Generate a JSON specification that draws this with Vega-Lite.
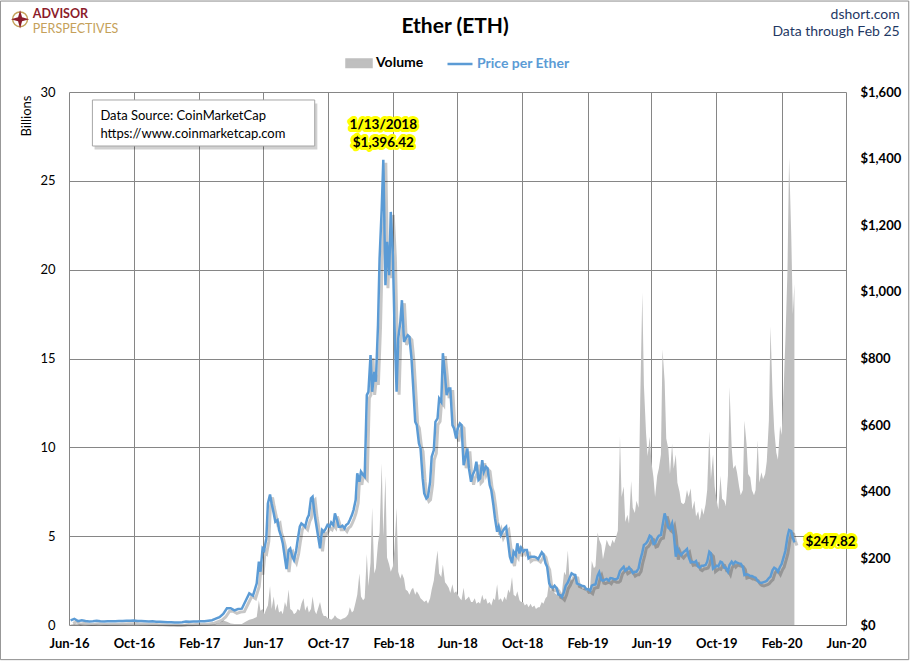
{
  "$schema": "https://vega.github.io/schema/vega-lite/v6.json",
  "width": 777,
  "height": 533,
  "autosize": "none",
  "padding": {"left": 69, "top": 92, "right": 64, "bottom": 36},
  "background": "white",
  "datasets": {
    "eth": [
      {"date": "2016-06-04", "vol": 0.03, "price": 13.9},
      {"date": "2016-06-11", "vol": 0.05, "price": 18.6},
      {"date": "2016-06-18", "vol": 0.06, "price": 11.5},
      {"date": "2016-06-25", "vol": 0.03, "price": 14.0},
      {"date": "2016-07-02", "vol": 0.02, "price": 12.2},
      {"date": "2016-07-09", "vol": 0.02, "price": 10.8},
      {"date": "2016-07-16", "vol": 0.02, "price": 11.5},
      {"date": "2016-07-23", "vol": 0.03, "price": 12.8},
      {"date": "2016-07-30", "vol": 0.02, "price": 11.3},
      {"date": "2016-08-06", "vol": 0.02, "price": 10.4},
      {"date": "2016-08-13", "vol": 0.01, "price": 11.2},
      {"date": "2016-08-20", "vol": 0.01, "price": 11.0},
      {"date": "2016-08-27", "vol": 0.01, "price": 11.3},
      {"date": "2016-09-03", "vol": 0.01, "price": 11.9},
      {"date": "2016-09-10", "vol": 0.01, "price": 12.0},
      {"date": "2016-09-17", "vol": 0.01, "price": 12.5},
      {"date": "2016-09-24", "vol": 0.01, "price": 12.9},
      {"date": "2016-10-01", "vol": 0.01, "price": 13.2},
      {"date": "2016-10-08", "vol": 0.01, "price": 12.0},
      {"date": "2016-10-15", "vol": 0.01, "price": 11.9},
      {"date": "2016-10-22", "vol": 0.01, "price": 11.5},
      {"date": "2016-10-29", "vol": 0.01, "price": 10.8},
      {"date": "2016-11-05", "vol": 0.01, "price": 11.0},
      {"date": "2016-11-12", "vol": 0.01, "price": 10.0},
      {"date": "2016-11-19", "vol": 0.01, "price": 9.7},
      {"date": "2016-11-26", "vol": 0.01, "price": 9.1},
      {"date": "2016-12-03", "vol": 0.01, "price": 8.5},
      {"date": "2016-12-10", "vol": 0.01, "price": 8.2},
      {"date": "2016-12-17", "vol": 0.01, "price": 7.8},
      {"date": "2016-12-24", "vol": 0.01, "price": 7.3},
      {"date": "2016-12-31", "vol": 0.01, "price": 8.0},
      {"date": "2017-01-07", "vol": 0.03, "price": 10.2},
      {"date": "2017-01-14", "vol": 0.02, "price": 9.8},
      {"date": "2017-01-21", "vol": 0.02, "price": 10.7},
      {"date": "2017-01-28", "vol": 0.01, "price": 10.6},
      {"date": "2017-02-04", "vol": 0.01, "price": 11.3},
      {"date": "2017-02-11", "vol": 0.01, "price": 11.4},
      {"date": "2017-02-18", "vol": 0.02, "price": 12.8},
      {"date": "2017-02-25", "vol": 0.03, "price": 14.4},
      {"date": "2017-03-04", "vol": 0.05, "price": 19.0},
      {"date": "2017-03-11", "vol": 0.12, "price": 23.5},
      {"date": "2017-03-18", "vol": 0.25, "price": 33.0},
      {"date": "2017-03-25", "vol": 0.18, "price": 50.0},
      {"date": "2017-04-01", "vol": 0.09, "price": 50.5},
      {"date": "2017-04-08", "vol": 0.06, "price": 44.0},
      {"date": "2017-04-15", "vol": 0.05, "price": 48.0},
      {"date": "2017-04-22", "vol": 0.05, "price": 49.0},
      {"date": "2017-04-29", "vol": 0.18, "price": 72.0},
      {"date": "2017-05-06", "vol": 0.3, "price": 95.0},
      {"date": "2017-05-13", "vol": 0.35, "price": 88.0},
      {"date": "2017-05-20", "vol": 0.45, "price": 125},
      {"date": "2017-05-24", "vol": 1.4, "price": 190},
      {"date": "2017-05-27", "vol": 0.8, "price": 160},
      {"date": "2017-05-31", "vol": 0.9, "price": 230},
      {"date": "2017-06-03", "vol": 0.6, "price": 224},
      {"date": "2017-06-07", "vol": 0.9, "price": 260},
      {"date": "2017-06-10", "vol": 1.1, "price": 365},
      {"date": "2017-06-14", "vol": 2.2, "price": 392},
      {"date": "2017-06-17", "vol": 0.9, "price": 365},
      {"date": "2017-06-21", "vol": 1.6, "price": 335},
      {"date": "2017-06-24", "vol": 0.8, "price": 310},
      {"date": "2017-06-28", "vol": 1.2, "price": 315},
      {"date": "2017-07-01", "vol": 0.7, "price": 285},
      {"date": "2017-07-05", "vol": 0.8, "price": 265},
      {"date": "2017-07-08", "vol": 0.6, "price": 245},
      {"date": "2017-07-12", "vol": 1.3, "price": 200},
      {"date": "2017-07-15", "vol": 1.0, "price": 168},
      {"date": "2017-07-19", "vol": 2.0, "price": 225},
      {"date": "2017-07-22", "vol": 0.9, "price": 230},
      {"date": "2017-07-26", "vol": 0.8, "price": 205},
      {"date": "2017-07-29", "vol": 0.6, "price": 195},
      {"date": "2017-08-02", "vol": 0.7, "price": 222},
      {"date": "2017-08-05", "vol": 0.9, "price": 255},
      {"date": "2017-08-09", "vol": 0.8, "price": 295},
      {"date": "2017-08-12", "vol": 1.2, "price": 305},
      {"date": "2017-08-16", "vol": 1.5, "price": 300},
      {"date": "2017-08-19", "vol": 0.8, "price": 295},
      {"date": "2017-08-23", "vol": 1.1, "price": 320},
      {"date": "2017-08-26", "vol": 0.7, "price": 330},
      {"date": "2017-08-30", "vol": 0.9, "price": 380},
      {"date": "2017-09-02", "vol": 1.6, "price": 385},
      {"date": "2017-09-06", "vol": 0.8, "price": 330},
      {"date": "2017-09-09", "vol": 0.6, "price": 300},
      {"date": "2017-09-13", "vol": 1.0, "price": 260},
      {"date": "2017-09-16", "vol": 1.3, "price": 230},
      {"date": "2017-09-20", "vol": 0.7, "price": 285},
      {"date": "2017-09-23", "vol": 0.5, "price": 280},
      {"date": "2017-09-27", "vol": 0.5, "price": 290},
      {"date": "2017-09-30", "vol": 0.4, "price": 300},
      {"date": "2017-10-04", "vol": 0.35, "price": 295},
      {"date": "2017-10-07", "vol": 0.3, "price": 308},
      {"date": "2017-10-11", "vol": 0.4, "price": 300},
      {"date": "2017-10-14", "vol": 0.55, "price": 335},
      {"date": "2017-10-18", "vol": 0.4, "price": 315},
      {"date": "2017-10-21", "vol": 0.35, "price": 295},
      {"date": "2017-10-25", "vol": 0.3, "price": 295},
      {"date": "2017-10-28", "vol": 0.35, "price": 298},
      {"date": "2017-11-01", "vol": 0.4, "price": 290},
      {"date": "2017-11-04", "vol": 0.45, "price": 300},
      {"date": "2017-11-08", "vol": 0.6, "price": 305},
      {"date": "2017-11-11", "vol": 1.0, "price": 315},
      {"date": "2017-11-15", "vol": 0.7, "price": 330},
      {"date": "2017-11-18", "vol": 0.8, "price": 345},
      {"date": "2017-11-22", "vol": 1.3, "price": 375},
      {"date": "2017-11-25", "vol": 1.7, "price": 455},
      {"date": "2017-11-29", "vol": 2.9, "price": 430},
      {"date": "2017-12-02", "vol": 1.6, "price": 460},
      {"date": "2017-12-06", "vol": 1.4, "price": 450},
      {"date": "2017-12-09", "vol": 1.5, "price": 445},
      {"date": "2017-12-13", "vol": 4.0, "price": 690},
      {"date": "2017-12-16", "vol": 2.2, "price": 700},
      {"date": "2017-12-20", "vol": 3.5, "price": 810},
      {"date": "2017-12-23", "vol": 6.6, "price": 700},
      {"date": "2017-12-27", "vol": 2.9, "price": 760},
      {"date": "2017-12-30", "vol": 3.2, "price": 730},
      {"date": "2018-01-03", "vol": 4.6, "price": 900},
      {"date": "2018-01-06", "vol": 5.2, "price": 1100},
      {"date": "2018-01-10", "vol": 9.1, "price": 1250},
      {"date": "2018-01-13", "vol": 5.0, "price": 1396.42},
      {"date": "2018-01-17", "vol": 8.4, "price": 1020},
      {"date": "2018-01-20", "vol": 3.8, "price": 1150},
      {"date": "2018-01-24", "vol": 3.4, "price": 1050},
      {"date": "2018-01-27", "vol": 3.0, "price": 1240},
      {"date": "2018-01-31", "vol": 3.3, "price": 1110},
      {"date": "2018-02-03", "vol": 4.3, "price": 900},
      {"date": "2018-02-07", "vol": 6.6, "price": 700},
      {"date": "2018-02-10", "vol": 3.0, "price": 860},
      {"date": "2018-02-14", "vol": 2.6, "price": 910},
      {"date": "2018-02-17", "vol": 2.9, "price": 975},
      {"date": "2018-02-21", "vol": 2.6, "price": 850},
      {"date": "2018-02-24", "vol": 2.0, "price": 860},
      {"date": "2018-02-28", "vol": 1.9, "price": 870},
      {"date": "2018-03-03", "vol": 1.7, "price": 865},
      {"date": "2018-03-07", "vol": 2.0, "price": 800},
      {"date": "2018-03-10", "vol": 2.1, "price": 720},
      {"date": "2018-03-14", "vol": 1.7, "price": 610},
      {"date": "2018-03-17", "vol": 1.9, "price": 600},
      {"date": "2018-03-21", "vol": 1.7, "price": 545},
      {"date": "2018-03-24", "vol": 1.5, "price": 530},
      {"date": "2018-03-28", "vol": 1.4, "price": 440},
      {"date": "2018-03-31", "vol": 1.3, "price": 395},
      {"date": "2018-04-04", "vol": 1.4, "price": 380},
      {"date": "2018-04-07", "vol": 1.2, "price": 385},
      {"date": "2018-04-11", "vol": 1.5, "price": 430},
      {"date": "2018-04-14", "vol": 2.0, "price": 505},
      {"date": "2018-04-18", "vol": 2.5, "price": 525},
      {"date": "2018-04-21", "vol": 3.3, "price": 610},
      {"date": "2018-04-25", "vol": 4.2, "price": 620},
      {"date": "2018-04-28", "vol": 2.9, "price": 680},
      {"date": "2018-05-02", "vol": 2.7, "price": 670},
      {"date": "2018-05-05", "vol": 3.4, "price": 816},
      {"date": "2018-05-09", "vol": 2.4, "price": 750},
      {"date": "2018-05-12", "vol": 2.3, "price": 690},
      {"date": "2018-05-16", "vol": 2.1, "price": 710},
      {"date": "2018-05-19", "vol": 1.8, "price": 710},
      {"date": "2018-05-23", "vol": 2.3, "price": 600},
      {"date": "2018-05-26", "vol": 1.8, "price": 590},
      {"date": "2018-05-30", "vol": 1.9, "price": 560},
      {"date": "2018-06-02", "vol": 1.7, "price": 590},
      {"date": "2018-06-06", "vol": 1.5, "price": 605},
      {"date": "2018-06-09", "vol": 1.4, "price": 600},
      {"date": "2018-06-13", "vol": 2.1, "price": 480},
      {"date": "2018-06-16", "vol": 1.4, "price": 500},
      {"date": "2018-06-20", "vol": 1.5, "price": 530},
      {"date": "2018-06-23", "vol": 1.6, "price": 470},
      {"date": "2018-06-27", "vol": 1.3, "price": 430},
      {"date": "2018-06-30", "vol": 1.3, "price": 450},
      {"date": "2018-07-04", "vol": 1.5, "price": 465},
      {"date": "2018-07-07", "vol": 1.2, "price": 490},
      {"date": "2018-07-11", "vol": 1.3, "price": 435},
      {"date": "2018-07-14", "vol": 1.2, "price": 440},
      {"date": "2018-07-18", "vol": 1.7, "price": 495},
      {"date": "2018-07-21", "vol": 1.4, "price": 460},
      {"date": "2018-07-25", "vol": 1.5, "price": 475},
      {"date": "2018-07-28", "vol": 1.2, "price": 470},
      {"date": "2018-08-01", "vol": 1.3, "price": 420},
      {"date": "2018-08-04", "vol": 1.1, "price": 405},
      {"date": "2018-08-08", "vol": 1.5, "price": 360},
      {"date": "2018-08-11", "vol": 1.4, "price": 320},
      {"date": "2018-08-15", "vol": 2.3, "price": 280},
      {"date": "2018-08-18", "vol": 1.4, "price": 295},
      {"date": "2018-08-22", "vol": 1.5, "price": 270},
      {"date": "2018-08-25", "vol": 1.3, "price": 280},
      {"date": "2018-08-29", "vol": 1.6, "price": 290},
      {"date": "2018-09-01", "vol": 1.4, "price": 295},
      {"date": "2018-09-05", "vol": 2.0, "price": 245},
      {"date": "2018-09-08", "vol": 1.8, "price": 205},
      {"date": "2018-09-12", "vol": 2.7, "price": 186},
      {"date": "2018-09-15", "vol": 1.7, "price": 220},
      {"date": "2018-09-19", "vol": 1.6, "price": 210},
      {"date": "2018-09-22", "vol": 1.9, "price": 245},
      {"date": "2018-09-26", "vol": 1.4, "price": 215},
      {"date": "2018-09-29", "vol": 1.3, "price": 232},
      {"date": "2018-10-03", "vol": 1.3, "price": 220},
      {"date": "2018-10-06", "vol": 1.1, "price": 225},
      {"date": "2018-10-10", "vol": 1.2, "price": 225},
      {"date": "2018-10-13", "vol": 1.0, "price": 200},
      {"date": "2018-10-17", "vol": 1.2, "price": 205},
      {"date": "2018-10-20", "vol": 1.0, "price": 205},
      {"date": "2018-10-24", "vol": 1.1, "price": 205},
      {"date": "2018-10-27", "vol": 0.9, "price": 203},
      {"date": "2018-10-31", "vol": 1.0, "price": 198},
      {"date": "2018-11-03", "vol": 1.0, "price": 206},
      {"date": "2018-11-07", "vol": 1.3, "price": 218},
      {"date": "2018-11-10", "vol": 1.2, "price": 212},
      {"date": "2018-11-14", "vol": 1.5, "price": 185},
      {"date": "2018-11-17", "vol": 1.6, "price": 175},
      {"date": "2018-11-21", "vol": 2.5, "price": 125},
      {"date": "2018-11-24", "vol": 1.9, "price": 115},
      {"date": "2018-11-28", "vol": 2.3, "price": 112},
      {"date": "2018-12-01", "vol": 1.8, "price": 118},
      {"date": "2018-12-05", "vol": 1.7, "price": 110},
      {"date": "2018-12-08", "vol": 2.0, "price": 92},
      {"date": "2018-12-12", "vol": 1.6, "price": 89},
      {"date": "2018-12-15", "vol": 1.9, "price": 84},
      {"date": "2018-12-19", "vol": 3.0, "price": 100},
      {"date": "2018-12-22", "vol": 2.8, "price": 118},
      {"date": "2018-12-26", "vol": 4.2, "price": 128},
      {"date": "2018-12-29", "vol": 2.7, "price": 140},
      {"date": "2019-01-02", "vol": 2.5, "price": 155},
      {"date": "2019-01-05", "vol": 2.6, "price": 152},
      {"date": "2019-01-09", "vol": 2.9, "price": 150},
      {"date": "2019-01-12", "vol": 2.4, "price": 125},
      {"date": "2019-01-16", "vol": 2.2, "price": 122},
      {"date": "2019-01-19", "vol": 2.3, "price": 120},
      {"date": "2019-01-23", "vol": 2.0, "price": 117},
      {"date": "2019-01-26", "vol": 2.1, "price": 116},
      {"date": "2019-01-30", "vol": 1.9, "price": 107},
      {"date": "2019-02-02", "vol": 2.0, "price": 108},
      {"date": "2019-02-06", "vol": 2.1, "price": 103},
      {"date": "2019-02-09", "vol": 3.6, "price": 118},
      {"date": "2019-02-13", "vol": 3.2, "price": 121},
      {"date": "2019-02-16", "vol": 3.3, "price": 122},
      {"date": "2019-02-20", "vol": 5.2, "price": 148},
      {"date": "2019-02-23", "vol": 4.8, "price": 158},
      {"date": "2019-02-27", "vol": 4.5, "price": 135},
      {"date": "2019-03-02", "vol": 3.7, "price": 133},
      {"date": "2019-03-06", "vol": 4.3, "price": 136},
      {"date": "2019-03-09", "vol": 4.8, "price": 138},
      {"date": "2019-03-13", "vol": 4.5, "price": 133},
      {"date": "2019-03-16", "vol": 4.4, "price": 141},
      {"date": "2019-03-20", "vol": 4.8, "price": 140},
      {"date": "2019-03-23", "vol": 4.6, "price": 137},
      {"date": "2019-03-27", "vol": 5.0, "price": 137},
      {"date": "2019-03-30", "vol": 5.3, "price": 141},
      {"date": "2019-04-03", "vol": 10.6, "price": 162},
      {"date": "2019-04-06", "vol": 7.2, "price": 168},
      {"date": "2019-04-10", "vol": 7.8, "price": 175},
      {"date": "2019-04-13", "vol": 5.8, "price": 163},
      {"date": "2019-04-17", "vol": 6.2, "price": 167},
      {"date": "2019-04-20", "vol": 5.7, "price": 173},
      {"date": "2019-04-24", "vol": 8.1, "price": 165},
      {"date": "2019-04-27", "vol": 6.6, "price": 156},
      {"date": "2019-05-01", "vol": 6.3, "price": 160},
      {"date": "2019-05-04", "vol": 7.0, "price": 160},
      {"date": "2019-05-08", "vol": 6.6, "price": 170},
      {"date": "2019-05-11", "vol": 12.5, "price": 194},
      {"date": "2019-05-15", "vol": 18.7, "price": 218},
      {"date": "2019-05-18", "vol": 13.5, "price": 240},
      {"date": "2019-05-22", "vol": 10.8, "price": 245},
      {"date": "2019-05-25", "vol": 9.5, "price": 252},
      {"date": "2019-05-29", "vol": 10.6, "price": 268},
      {"date": "2019-06-01", "vol": 9.2, "price": 265},
      {"date": "2019-06-05", "vol": 8.3, "price": 243},
      {"date": "2019-06-08", "vol": 7.2, "price": 245},
      {"date": "2019-06-12", "vol": 8.4, "price": 260},
      {"date": "2019-06-15", "vol": 8.8, "price": 268},
      {"date": "2019-06-19", "vol": 9.6, "price": 270},
      {"date": "2019-06-22", "vol": 15.5, "price": 298},
      {"date": "2019-06-26", "vol": 13.7, "price": 335},
      {"date": "2019-06-29", "vol": 10.5, "price": 318},
      {"date": "2019-07-03", "vol": 9.9, "price": 292},
      {"date": "2019-07-06", "vol": 8.5, "price": 288},
      {"date": "2019-07-10", "vol": 10.2, "price": 305},
      {"date": "2019-07-13", "vol": 8.8, "price": 275},
      {"date": "2019-07-17", "vol": 9.6, "price": 205},
      {"date": "2019-07-20", "vol": 8.0, "price": 230},
      {"date": "2019-07-24", "vol": 7.5, "price": 215},
      {"date": "2019-07-27", "vol": 6.9, "price": 210},
      {"date": "2019-07-31", "vol": 6.8, "price": 218},
      {"date": "2019-08-03", "vol": 6.9, "price": 222},
      {"date": "2019-08-07", "vol": 7.6, "price": 228},
      {"date": "2019-08-10", "vol": 7.2, "price": 205},
      {"date": "2019-08-14", "vol": 7.7, "price": 188},
      {"date": "2019-08-17", "vol": 6.5, "price": 190},
      {"date": "2019-08-21", "vol": 7.0, "price": 188},
      {"date": "2019-08-24", "vol": 6.1, "price": 192},
      {"date": "2019-08-28", "vol": 6.4, "price": 175},
      {"date": "2019-08-31", "vol": 5.9, "price": 172},
      {"date": "2019-09-04", "vol": 6.6, "price": 178},
      {"date": "2019-09-07", "vol": 6.2, "price": 178},
      {"date": "2019-09-11", "vol": 6.8, "price": 180},
      {"date": "2019-09-14", "vol": 7.6, "price": 190},
      {"date": "2019-09-18", "vol": 10.9, "price": 220},
      {"date": "2019-09-21", "vol": 8.2, "price": 215},
      {"date": "2019-09-25", "vol": 9.6, "price": 169},
      {"date": "2019-09-28", "vol": 7.8, "price": 173},
      {"date": "2019-10-02", "vol": 7.0, "price": 178},
      {"date": "2019-10-05", "vol": 6.5, "price": 176},
      {"date": "2019-10-09", "vol": 8.4, "price": 190},
      {"date": "2019-10-12", "vol": 7.1, "price": 188},
      {"date": "2019-10-16", "vol": 7.0, "price": 172},
      {"date": "2019-10-19", "vol": 6.7, "price": 172},
      {"date": "2019-10-23", "vol": 8.4, "price": 160},
      {"date": "2019-10-26", "vol": 13.4, "price": 180},
      {"date": "2019-10-30", "vol": 10.0, "price": 190},
      {"date": "2019-11-02", "vol": 8.8, "price": 183},
      {"date": "2019-11-06", "vol": 9.0, "price": 190},
      {"date": "2019-11-09", "vol": 8.6, "price": 187},
      {"date": "2019-11-13", "vol": 7.8, "price": 185},
      {"date": "2019-11-16", "vol": 7.3, "price": 184},
      {"date": "2019-11-20", "vol": 7.6, "price": 175},
      {"date": "2019-11-23", "vol": 11.5, "price": 150},
      {"date": "2019-11-27", "vol": 10.2, "price": 152},
      {"date": "2019-11-30", "vol": 8.5, "price": 151},
      {"date": "2019-12-04", "vol": 8.3, "price": 147},
      {"date": "2019-12-07", "vol": 7.6, "price": 147},
      {"date": "2019-12-11", "vol": 7.3, "price": 144},
      {"date": "2019-12-14", "vol": 7.6, "price": 142},
      {"date": "2019-12-18", "vol": 10.4, "price": 132},
      {"date": "2019-12-21", "vol": 8.0, "price": 128},
      {"date": "2019-12-25", "vol": 8.6, "price": 126},
      {"date": "2019-12-28", "vol": 8.2, "price": 128},
      {"date": "2020-01-01", "vol": 8.5, "price": 130},
      {"date": "2020-01-04", "vol": 9.2, "price": 133},
      {"date": "2020-01-08", "vol": 11.5, "price": 141},
      {"date": "2020-01-11", "vol": 16.8, "price": 145},
      {"date": "2020-01-15", "vol": 12.9, "price": 165},
      {"date": "2020-01-18", "vol": 11.0, "price": 172},
      {"date": "2020-01-22", "vol": 9.7, "price": 168},
      {"date": "2020-01-25", "vol": 9.3, "price": 160},
      {"date": "2020-01-29", "vol": 11.2, "price": 175},
      {"date": "2020-02-01", "vol": 10.7, "price": 183},
      {"date": "2020-02-05", "vol": 13.5, "price": 205},
      {"date": "2020-02-08", "vol": 16.0, "price": 223},
      {"date": "2020-02-12", "vol": 20.0, "price": 265},
      {"date": "2020-02-15", "vol": 26.3, "price": 285},
      {"date": "2020-02-19", "vol": 22.0, "price": 282},
      {"date": "2020-02-22", "vol": 17.5, "price": 262},
      {"date": "2020-02-25", "vol": 19.2, "price": 247.82}
    ]
  },
  "data": {"name": "eth"},
  "layer": [
    {
      "layer": [
        {
          "data": {"values": [{}]},
          "mark": {"type": "rect", "filled": false, "stroke": "#8C8C8C", "strokeWidth": 1},
          "encoding": {
            "x": {"datum": {"year": 2016, "month": 1, "date": 24, "utc": true}, "type": "temporal"},
            "x2": {"datum": {"year": 2020, "month": 9, "date": 27, "utc": true}},
            "y": {"datum": 35.12, "type": "quantitative"},
            "y2": {"datum": -1.95}
          }
        },
        {
          "mark": {"type": "area", "interpolate": "linear"},
          "encoding": {
            "x": {
              "field": "date",
              "type": "temporal",
              "title": null,
              "scale": {"type": "utc", "domain": [{"year": 2016, "month": 6, "date": 1, "utc": true}, {"year": 2020, "month": 6, "date": 1, "utc": true}]},
              "axis": {
                "values": [
                  {"year": 2016, "month": 6, "date": 1, "utc": true},
                  {"year": 2016, "month": 10, "date": 1, "utc": true},
                  {"year": 2017, "month": 2, "date": 1, "utc": true},
                  {"year": 2017, "month": 6, "date": 1, "utc": true},
                  {"year": 2017, "month": 10, "date": 1, "utc": true},
                  {"year": 2018, "month": 2, "date": 1, "utc": true},
                  {"year": 2018, "month": 6, "date": 1, "utc": true},
                  {"year": 2018, "month": 10, "date": 1, "utc": true},
                  {"year": 2019, "month": 2, "date": 1, "utc": true},
                  {"year": 2019, "month": 6, "date": 1, "utc": true},
                  {"year": 2019, "month": 10, "date": 1, "utc": true},
                  {"year": 2020, "month": 2, "date": 1, "utc": true},
                  {"year": 2020, "month": 6, "date": 1, "utc": true}
                ],
                "format": "%b-%y",
                "grid": true,
                "labelFontWeight": "bold",
                "labelFontSize": 13,
                "labelPadding": 12,
                "labelFlush": false,
                "labelOverlap": false
              }
            },
            "y": {
              "field": "vol",
              "type": "quantitative",
              "scale": {"domain": [0, 30], "nice": false},
              "axis": {
                "orient": "left",
                "values": [0, 5, 10, 15, 20, 25, 30],
                "grid": true,
                "labelFontSize": 13,
                "labelPadding": 14,
                "title": "Billions",
                "titleFontSize": 13,
                "titleFontWeight": "normal",
                "titleAngle": -90,
                "titleX": -43,
                "titleY": 3,
                "titleAlign": "right",
                "titleBaseline": "middle"
              }
            },
            "color": {
              "datum": "Volume",
              "type": "nominal",
              "scale": {"domain": ["Volume", "Price per Ether"], "range": ["#BFBFBF", "#5B9BD5"]},
              "legend": {
                "orient": "none",
                "legendX": 276,
                "legendY": -43,
                "direction": "horizontal",
                "title": null,
                "symbolSize": 625,
                "labelFontSize": 14,
                "labelFontWeight": "bold",
                "labelOffset": 3,
                "columnPadding": 18,
                "encode": {
                  "symbols": {
                    "update": {
                      "shape": {"signal": "datum.label === 'Volume' ? 'M-1,-0.3H1V0.3H-1Z' : 'stroke'"},
                      "fill": {"signal": "datum.label === 'Volume' ? '#BFBFBF' : 'transparent'"},
                      "stroke": {"signal": "datum.label === 'Volume' ? 'transparent' : '#5B9BD5'"},
                      "strokeWidth": {"value": 2.5}
                    }
                  },
                  "labels": {
                    "update": {
                      "fill": {"signal": "datum.label === 'Volume' ? 'black' : '#5B9BD5'"}
                    }
                  }
                }
              }
            }
          }
        },
        {
          "data": {"values": [{}]},
          "mark": {"type": "rect", "fill": "#000000", "opacity": 0.18},
          "encoding": {
            "x": {"datum": {"year": 2016, "month": 7, "date": 19, "utc": true}, "type": "temporal"},
            "x2": {"datum": {"year": 2017, "month": 9, "date": 11, "utc": true}},
            "y": {"datum": 29.35, "type": "quantitative"},
            "y2": {"datum": 26.76}
          }
        },
        {
          "data": {"values": [{}]},
          "mark": {"type": "rect", "fill": "white", "stroke": "#A6A6A6", "strokeWidth": 1},
          "encoding": {
            "x": {"datum": {"year": 2016, "month": 7, "date": 15, "utc": true}, "type": "temporal"},
            "x2": {"datum": {"year": 2017, "month": 9, "date": 6, "utc": true}},
            "y": {"datum": 29.55, "type": "quantitative"},
            "y2": {"datum": 26.96}
          }
        },
        {
          "data": {"values": [{}]},
          "mark": {"type": "text", "align": "left", "baseline": "middle", "fontSize": 13, "color": "black", "lineHeight": 18.5},
          "encoding": {
            "x": {"datum": {"year": 2016, "month": 7, "date": 30, "utc": true}, "type": "temporal"},
            "y": {"datum": 28.67, "type": "quantitative"},
            "text": {"value": ["Data Source: CoinMarketCap", "https://www.coinmarketcap.com"]}
          }
        },
        {
          "data": {"values": [{}]},
          "mark": {"type": "point", "shape": "circle", "size": 220, "filled": false, "stroke": "#C5A15A", "strokeWidth": 1.5, "opacity": 1},
          "encoding": {
            "x": {"datum": {"year": 2016, "month": 3, "date": 1, "utc": true}, "type": "temporal"},
            "y": {"datum": 34.09, "type": "quantitative"}
          }
        },
        {
          "data": {"values": [{}]},
          "mark": {"type": "point", "shape": "M0,-1L0.22,-0.22L1,0L0.22,0.22L0,1L-0.22,0.22L-1,0L-0.22,-0.22Z", "size": 330, "filled": true, "color": "#8C1C2B", "opacity": 1},
          "encoding": {
            "x": {"datum": {"year": 2016, "month": 3, "date": 1, "utc": true}, "type": "temporal"},
            "y": {"datum": 34.09, "type": "quantitative"}
          }
        },
        {
          "data": {"values": [{}]},
          "mark": {"type": "text", "align": "left", "baseline": "alphabetic", "fontSize": 12.5, "fontWeight": "bold", "color": "#8C1C2B"},
          "encoding": {
            "x": {"datum": {"year": 2016, "month": 3, "date": 25, "utc": true}, "type": "temporal"},
            "y": {"datum": 34.165, "type": "quantitative"},
            "text": {"value": "ADVISOR"}
          }
        },
        {
          "data": {"values": [{}]},
          "mark": {"type": "text", "align": "left", "baseline": "alphabetic", "fontSize": 12.5, "color": "#C5A15A"},
          "encoding": {
            "x": {"datum": {"year": 2016, "month": 3, "date": 25, "utc": true}, "type": "temporal"},
            "y": {"datum": 33.33, "type": "quantitative"},
            "text": {"value": "PERSPECTIVES"}
          }
        },
        {
          "data": {"values": [{}]},
          "mark": {"type": "text", "align": "center", "baseline": "alphabetic", "fontSize": 21, "fontWeight": "bold", "color": "black"},
          "encoding": {
            "x": {"datum": {"year": 2018, "month": 5, "date": 28, "utc": true}, "type": "temporal"},
            "y": {"datum": 33.3, "type": "quantitative"},
            "text": {"value": "Ether (ETH)"}
          }
        },
        {
          "data": {"values": [{}]},
          "mark": {"type": "text", "align": "right", "baseline": "middle", "fontSize": 14, "color": "#1F3864"},
          "encoding": {
            "x": {"datum": {"year": 2020, "month": 9, "date": 10, "utc": true}, "type": "temporal"},
            "y": {"datum": 34.33, "type": "quantitative"},
            "text": {"value": "dshort.com"}
          }
        },
        {
          "data": {"values": [{}]},
          "mark": {"type": "text", "align": "right", "baseline": "middle", "fontSize": 14, "color": "#1F3864"},
          "encoding": {
            "x": {"datum": {"year": 2020, "month": 9, "date": 10, "utc": true}, "type": "temporal"},
            "y": {"datum": 33.38, "type": "quantitative"},
            "text": {"value": "Data through Feb 25"}
          }
        }
      ]
    },
    {
      "mark": {"type": "line", "strokeWidth": 3, "color": "#000000", "opacity": 0.22, "interpolate": "linear"},
      "encoding": {
        "x": {
          "field": "date",
          "type": "temporal",
          "axis": null,
          "scale": {"type": "utc", "domain": [{"year": 2016, "month": 6, "date": 1, "utc": true}, {"year": 2020, "month": 6, "date": 1, "utc": true}], "range": [2.5, 779.5]}
        },
        "y": {
          "field": "price",
          "type": "quantitative",
          "axis": null,
          "scale": {"domain": [0, 1600], "nice": false, "range": [536, 3]}
        }
      }
    },
    {
      "layer": [
        {
          "mark": {"type": "line", "strokeWidth": 2.5, "interpolate": "linear"},
          "encoding": {
            "x": {
              "field": "date",
              "type": "temporal",
              "title": null,
              "axis": null,
              "scale": {"type": "utc", "domain": [{"year": 2016, "month": 6, "date": 1, "utc": true}, {"year": 2020, "month": 6, "date": 1, "utc": true}]}
            },
            "y": {
              "field": "price",
              "type": "quantitative",
              "scale": {"domain": [0, 1600], "nice": false},
              "axis": {
                "orient": "right",
                "values": [0, 200, 400, 600, 800, 1000, 1200, 1400, 1600],
                "format": "$,.0f",
                "grid": false,
                "labelFontSize": 13,
                "labelFontWeight": "bold",
                "labelPadding": 14,
                "title": null
              }
            },
            "color": {"datum": "Price per Ether", "type": "nominal"}
          }
        },
        {
          "transform": [
            {"joinaggregate": [{"op": "max", "field": "price", "as": "pmax"}]},
            {"filter": "datum.price === datum.pmax"}
          ],
          "mark": {"type": "text", "align": "center", "baseline": "middle", "fontSize": 13.5, "fontWeight": "bold", "dy": -35, "fill": "#FFFF00", "stroke": "#FFFF00", "strokeWidth": 6, "strokeJoin": "round"},
          "encoding": {
            "x": {"field": "date", "type": "temporal"},
            "y": {"field": "price", "type": "quantitative"},
            "text": {"field": "date", "type": "temporal", "timeUnit": "utcyearmonthdate", "format": "%-m/%-d/%Y"}
          }
        },
        {
          "transform": [
            {"joinaggregate": [{"op": "max", "field": "price", "as": "pmax"}]},
            {"filter": "datum.price === datum.pmax"}
          ],
          "mark": {"type": "text", "align": "center", "baseline": "middle", "fontSize": 13.5, "fontWeight": "bold", "dy": -17, "fill": "#FFFF00", "stroke": "#FFFF00", "strokeWidth": 6, "strokeJoin": "round"},
          "encoding": {
            "x": {"field": "date", "type": "temporal"},
            "y": {"field": "price", "type": "quantitative"},
            "text": {"field": "price", "type": "quantitative", "format": "$,.2f"}
          }
        },
        {
          "transform": [
            {"joinaggregate": [{"op": "max", "field": "price", "as": "pmax"}]},
            {"filter": "datum.price === datum.pmax"}
          ],
          "mark": {"type": "text", "align": "center", "baseline": "middle", "fontSize": 13.5, "fontWeight": "bold", "dy": -35, "color": "black"},
          "encoding": {
            "x": {"field": "date", "type": "temporal"},
            "y": {"field": "price", "type": "quantitative"},
            "text": {"field": "date", "type": "temporal", "timeUnit": "utcyearmonthdate", "format": "%-m/%-d/%Y"}
          }
        },
        {
          "transform": [
            {"joinaggregate": [{"op": "max", "field": "price", "as": "pmax"}]},
            {"filter": "datum.price === datum.pmax"}
          ],
          "mark": {"type": "text", "align": "center", "baseline": "middle", "fontSize": 13.5, "fontWeight": "bold", "dy": -17, "color": "black"},
          "encoding": {
            "x": {"field": "date", "type": "temporal"},
            "y": {"field": "price", "type": "quantitative"},
            "text": {"field": "price", "type": "quantitative", "format": "$,.2f"}
          }
        },
        {
          "transform": [{"filter": "datum.price === 247.82"}],
          "mark": {"type": "text", "align": "left", "baseline": "middle", "fontSize": 13.5, "fontWeight": "bold", "dx": 11, "fill": "#FFFF00", "stroke": "#FFFF00", "strokeWidth": 6, "strokeJoin": "round"},
          "encoding": {
            "x": {"field": "date", "type": "temporal"},
            "y": {"field": "price", "type": "quantitative"},
            "text": {"field": "price", "type": "quantitative", "format": "$,.2f"}
          }
        },
        {
          "transform": [{"filter": "datum.price === 247.82"}],
          "mark": {"type": "text", "align": "left", "baseline": "middle", "fontSize": 13.5, "fontWeight": "bold", "dx": 11, "color": "black"},
          "encoding": {
            "x": {"field": "date", "type": "temporal"},
            "y": {"field": "price", "type": "quantitative"},
            "text": {"field": "price", "type": "quantitative", "format": "$,.2f"}
          }
        }
      ]
    }
  ],
  "resolve": {"scale": {"x": "independent", "y": "independent"}},
  "config": {
    "font": "Lato",
    "view": {"stroke": null},
    "axis": {
      "domain": false,
      "ticks": false,
      "gridColor": "#868686",
      "gridWidth": 1,
      "gridOpacity": 1,
      "labelColor": "black",
      "labelFont": "Lato",
      "titleFont": "Lato",
      "titleColor": "black"
    },
    "legend": {"labelFont": "Lato"},
    "text": {"font": "Lato"}
  }
}
